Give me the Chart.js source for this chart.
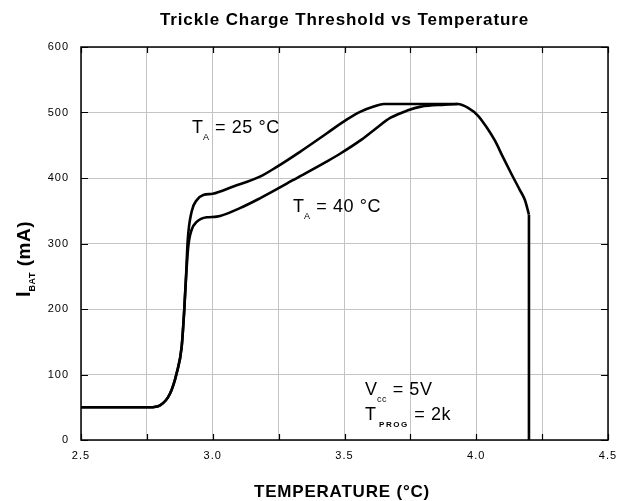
<!DOCTYPE html>
<html><head><meta charset="utf-8">
<script src="https://cdn.jsdelivr.net/npm/chart.js@4/dist/chart.umd.min.js"></script>
<style>html,body{margin:0;padding:0;background:#fff}</style>
</head><body>
<canvas id="c" width="628" height="501"></canvas>
<script>
// ---- data ----
const chartTitle = 'Trickle Charge Threshold vs Temperature';
const xAxisTitle = 'TEMPERATURE (°C)';
const xMin = 2.5, xMax = 4.5, xStep = 0.25;
const yMin = 0, yMax = 600, yStep = 100;

const t25X = [2.5, 2.6, 2.7, 2.76, 2.80, 2.838, 2.863, 2.882, 2.891, 2.898, 2.905, 2.92, 2.939, 2.964, 3.0, 3.078, 3.179, 3.243, 3.331, 3.432, 3.508, 3.559, 3.611, 3.649, 3.75, 3.85, 3.93, 3.969, 4.007, 4.04, 4.071, 4.10, 4.135, 4.165, 4.185, 4.2];
const t25Y = [50, 50, 50, 50, 53, 71, 102, 142, 193, 244, 305, 349, 366, 374, 376, 387, 402, 417, 440, 468, 489, 501, 509, 513, 513, 513, 513, 507, 495, 477, 457, 433, 405, 382, 366, 344];

const t40X = [2.5, 2.6, 2.7, 2.76, 2.80, 2.838, 2.863, 2.882, 2.891, 2.898, 2.907, 2.92, 2.939, 2.977, 3.015, 3.103, 3.179, 3.306, 3.432, 3.483, 3.559, 3.611, 3.675, 3.738, 3.79, 3.88, 3.93];
const t40Y = [50, 50, 50, 50, 53, 71, 102, 142, 193, 244, 295, 321, 333, 340, 341, 354, 369, 397, 425, 437, 457, 473, 492, 503, 509, 512, 513];

const cutoffX = [4.2, 4.2];
const cutoffY = [344, 0];

// annotation labels: [main, subscript, rest, x, y(baseline)]
const labels = [
  ['T', 'A', ' = 25 °C', 2.921, 469],
  ['T', 'A', ' = 40 °C', 3.305, 348],
  ['V', 'cc', ' = 5V', 3.578, 69],
  ['T', 'PROG', ' = 2k', 3.578, 31]
];

const pts = (xs, ys) => xs.map((x, i) => ({x: x, y: ys[i]}));

function drawParts(ctx, parts, x, y, align) {
  let total = 0;
  parts.forEach(p => { ctx.font = p.font; ctx.letterSpacing = p.ls || '0px'; p.w = ctx.measureText(p.t).width + (p.gap || 0); total += p.w; });
  let cx = align === 'center' ? x - total / 2 : x;
  ctx.textAlign = 'left';
  ctx.textBaseline = 'alphabetic';
  parts.forEach(p => { ctx.font = p.font; ctx.letterSpacing = p.ls || '0px'; ctx.fillText(p.t, cx + (p.pre || 0), y + (p.dy || 0)); cx += p.w; });
  ctx.letterSpacing = '0px';
}

const FONT = '"Liberation Sans", Arial, sans-serif';

const decor = {
  id: 'decor',
  beforeDraw(chart) { chart.ctx.letterSpacing = '1px'; },
  afterDraw(chart) {
    const ctx = chart.ctx, a = chart.chartArea, sx = chart.scales.x, sy = chart.scales.y;
    ctx.letterSpacing = '0px';
    ctx.save();
    ctx.strokeStyle = '#000';
    ctx.lineWidth = 1.5;
    ctx.strokeRect(a.left, a.top, a.right - a.left, a.bottom - a.top);
    ctx.lineWidth = 1.2;
    ctx.beginPath();
    sx.ticks.forEach(t => {
      const px = Math.round(sx.getPixelForValue(t.value)) + 0.5;
      ctx.moveTo(px, a.bottom); ctx.lineTo(px, a.bottom - 6);
      ctx.moveTo(px, a.top); ctx.lineTo(px, a.top + 6);
    });
    sy.ticks.forEach(t => {
      const py = Math.round(sy.getPixelForValue(t.value)) + 0.5;
      ctx.moveTo(a.left, py); ctx.lineTo(a.left + 7, py);
      ctx.moveTo(a.right, py); ctx.lineTo(a.right - 7, py);
    });
    ctx.stroke();

    ctx.fillStyle = '#000';
    // title
    drawParts(ctx, [{t: chartTitle, font: 'bold 17px ' + FONT, ls: '0.9px'}], (a.left + a.right) / 2, 25, 'center');
    // x title
    drawParts(ctx, [{t: xAxisTitle, font: 'bold 17px ' + FONT, ls: '0.8px'}], 342, 497, 'center');
    // y title
    ctx.save();
    ctx.translate(30, 259);
    ctx.rotate(-Math.PI / 2);
    drawParts(ctx, [
      {t: 'I', font: 'bold 20px ' + FONT},
      {t: 'BAT', font: 'bold 9px ' + FONT, dy: 5, ls: '0.5px'},
      {t: ' (mA)', font: 'bold 19px ' + FONT, ls: '0.5px'}
    ], 0, 0, 'center');
    ctx.restore();

    // annotations
    labels.forEach(l => {
      const px = sx.getPixelForValue(l[3]);
      const py = sy.getPixelForValue(l[4]);
      const long = l[1].length > 2;
      drawParts(ctx, [
        {t: l[0], font: '18px ' + FONT},
        {t: l[1], font: (long ? 'bold 8px ' : '9px ') + FONT, dy: 7, ls: long ? '1.5px' : '0.5px', pre: long ? 3 : 0, gap: long ? 3 : 0},
        {t: l[2], font: '18px ' + FONT, ls: '0.6px'}
      ], px, py, 'left');
    });
    ctx.restore();
  }
};

const lineStyle = {borderColor: '#000', borderWidth: 2.6, pointRadius: 0, fill: false, showLine: true};

new Chart(document.getElementById('c'), {
  type: 'scatter',
  data: {
    datasets: [
      Object.assign({label: 'TA = 25 °C', data: pts(t25X, t25Y), cubicInterpolationMode: 'monotone'}, lineStyle),
      Object.assign({label: 'TA = 40 °C', data: pts(t40X, t40Y), cubicInterpolationMode: 'monotone'}, lineStyle),
      Object.assign({label: 'cutoff', data: pts(cutoffX, cutoffY), tension: 0}, lineStyle)
    ]
  },
  options: {
    responsive: false,
    animation: false,
    devicePixelRatio: 1,
    layout: {padding: {top: 47, right: 20, left: 0, bottom: 0}},
    plugins: {legend: {display: false}, tooltip: {enabled: false}, title: {display: false}},
    scales: {
      x: {
        type: 'linear', min: xMin, max: xMax,
        afterFit: s => { s.height = 61; },
        grid: {color: '#c4c4c4', lineWidth: 1, drawTicks: false},
        border: {display: false},
        ticks: {
          stepSize: xStep, autoSkip: false, maxRotation: 0, padding: 9, color: '#000',
          font: {family: FONT, size: 11},
          callback: v => (Math.abs(v * 2 - Math.round(v * 2)) < 1e-6 ? v.toFixed(1) : '')
        }
      },
      y: {
        type: 'linear', min: yMin, max: yMax,
        afterFit: s => { s.width = 81; },
        grid: {color: '#c4c4c4', lineWidth: 1, drawTicks: false},
        border: {display: false},
        ticks: {stepSize: yStep, padding: 12, color: '#000', font: {family: FONT, size: 11}}
      }
    }
  },
  plugins: [decor]
});
</script>
</body></html>
